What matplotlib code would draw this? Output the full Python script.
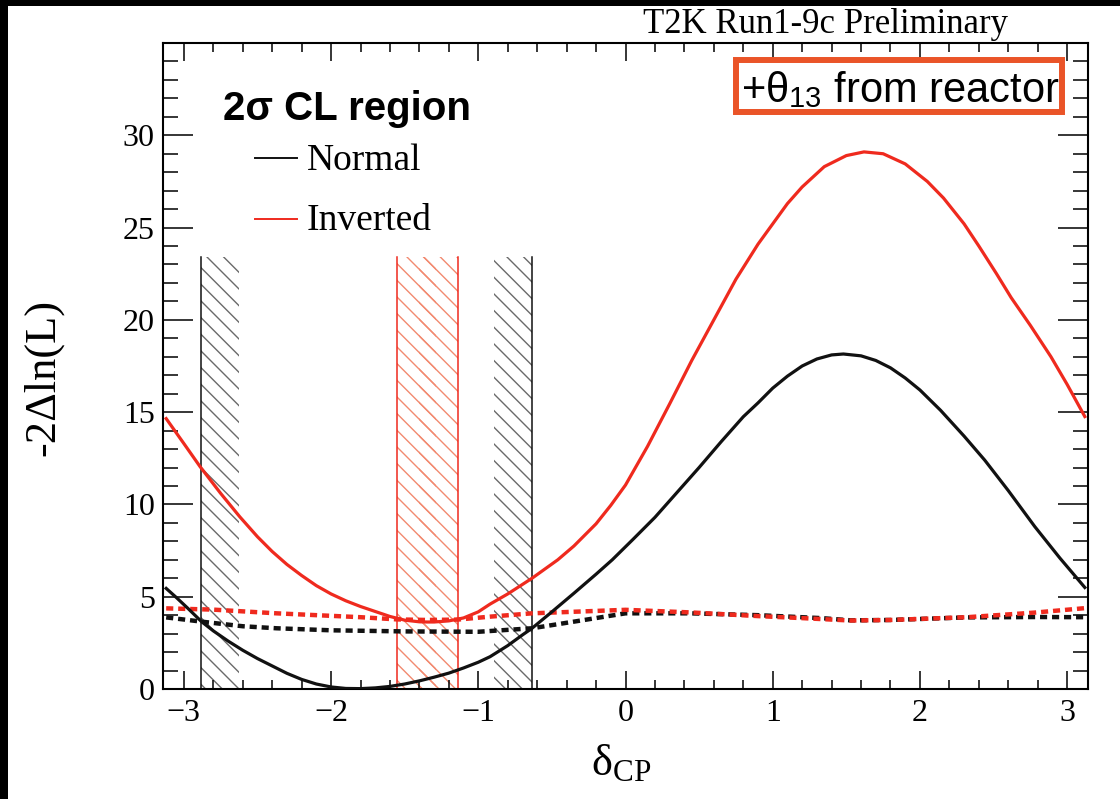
import matplotlib
matplotlib.use('Agg')
import matplotlib.pyplot as plt
from matplotlib.patches import Rectangle
from matplotlib.lines import Line2D
from matplotlib.ticker import FixedLocator, MultipleLocator
import numpy as np

plt.rcParams['font.family'] = ['Liberation Serif', 'DejaVu Serif']
plt.rcParams['mathtext.fontset'] = 'custom'
plt.rcParams['mathtext.rm'] = 'Liberation Serif'
plt.rcParams['mathtext.it'] = 'Liberation Serif:italic'
plt.rcParams['mathtext.bf'] = 'Liberation Serif:bold'
plt.rcParams['mathtext.sf'] = 'Liberation Sans'
plt.rcParams['hatch.linewidth'] = 1.0

# ---------------- data ----------------
normal_dcp = [-3.12, -3.05, -2.97, -2.88, -2.8, -2.7, -2.6, -2.5, -2.4, -2.3, -2.2,
              -2.1, -2.0, -1.9, -1.8, -1.7, -1.6, -1.5, -1.4, -1.3, -1.2, -1.1,
              -1.0, -0.92, -0.8, -0.7, -0.635, -0.5, -0.35, -0.2, -0.09, 0.05, 0.2,
              0.35, 0.5, 0.65, 0.8, 0.9, 1.0, 1.1, 1.2, 1.3, 1.4, 1.48, 1.6,
              1.7, 1.8, 1.9, 2.0, 2.14, 2.3, 2.44, 2.6, 2.78, 2.95, 3.12]
normal_chi2 = [5.45, 4.95, 4.35, 3.65, 3.15, 2.6, 2.1, 1.65, 1.25, 0.85, 0.52,
               0.27, 0.11, 0.03, 0.02, 0.06, 0.14, 0.27, 0.44, 0.64, 0.86, 1.14,
               1.45, 1.75, 2.35, 2.93, 3.29, 4.18, 5.19, 6.22, 7.0, 8.1, 9.3,
               10.65, 12.0, 13.4, 14.75, 15.5, 16.3, 16.95, 17.5, 17.88, 18.1, 18.15, 18.05,
               17.8, 17.4, 16.85, 16.2, 15.1, 13.7, 12.4, 10.75, 8.8, 7.1, 5.5]

inverted_dcp = [-3.12, -3.0, -2.89, -2.75, -2.62, -2.5, -2.4, -2.3, -2.2, -2.1, -2.0,
                -1.9, -1.8, -1.7, -1.6, -1.5, -1.4, -1.35, -1.3, -1.2, -1.1, -1.0,
                -0.92, -0.8, -0.635, -0.46, -0.35, -0.2, -0.1, 0.0, 0.15, 0.3, 0.45,
                0.6, 0.75, 0.9, 1.0, 1.1, 1.2, 1.35, 1.5, 1.62, 1.75, 1.9, 2.05,
                2.16, 2.3, 2.4, 2.52, 2.62, 2.75, 2.89, 3.0, 3.12]
inverted_chi2 = [14.65, 13.3, 12.05, 10.6, 9.33, 8.25, 7.45, 6.75, 6.15, 5.6, 5.15,
                 4.78, 4.47, 4.2, 3.93, 3.73, 3.64, 3.63, 3.63, 3.69, 3.85, 4.18,
                 4.6, 5.15, 6.0, 7.0, 7.75, 8.95, 9.95, 11.05, 13.15, 15.45, 17.8,
                 20.0, 22.2, 24.1, 25.2, 26.3, 27.2, 28.3, 28.9, 29.1, 29.0, 28.45, 27.5,
                 26.6, 25.2, 24.0, 22.5, 21.2, 19.7, 18.0, 16.5, 14.76]

normal_crit_dcp = [-3.12, -2.88, -2.6, -2.37, -2.0, -1.5, -1.0, -0.635, -0.35, 0.0, 0.44,
                   0.9, 1.33, 1.53, 1.8, 2.32, 2.8, 3.12]
normal_crit = [3.88, 3.65, 3.4, 3.29, 3.18, 3.12, 3.1, 3.29, 3.65, 4.1, 4.1,
               4.0, 3.84, 3.72, 3.74, 3.88, 3.9, 3.89]

inverted_crit_dcp = [-3.12, -2.8, -2.37, -1.8, -1.55, -1.35, -1.14, -0.92, -0.635, -0.3, 0.0,
                     0.44, 0.9, 1.2, 1.53, 1.8, 2.32, 2.78, 3.12]
inverted_crit = [4.37, 4.3, 4.1, 3.89, 3.77, 3.74, 3.76, 3.92, 4.1, 4.2, 4.29,
                 4.15, 3.95, 3.84, 3.71, 3.74, 3.89, 4.14, 4.38]

normal_cl = [-2.884, -0.635]
inverted_cl = [-1.549, -1.141]
band_top = 23.4
hatch_width = 0.26

x_ticks = [-3, -2, -1, 0, 1, 2, 3]
y_ticks = [0, 5, 10, 15, 20, 25, 30]

BLACK = '#111111'
RED = '#ef2a1e'
BOX = '#ea5428'

W, H = 1120, 799
def fx(px):
    return px / W
def fy(py):
    return 1 - py / H

fig = plt.figure(figsize=(W / 100, H / 100), dpi=100, facecolor='black')
fig.patches.append(Rectangle((fx(8), 0), 1, fy(6), transform=fig.transFigure,
                             facecolor='white', edgecolor='none', zorder=-10))

ax = fig.add_axes([fx(163), fy(689), fx(1088) - fx(163), fy(43) - fy(689)])
ax.set_xlim(-np.pi, np.pi)
ax.set_ylim(0, 35)

# CL bands
def band(cl, line_color, hatch_color):
    lo, hi = cl
    for a, b in [(lo, min(lo + hatch_width, hi)), (max(hi - hatch_width, lo), hi)]:
        ax.fill_between([a, b], 0, band_top, facecolor='none', edgecolor=hatch_color,
                        linewidth=0, hatch='\\\\', zorder=1)
    for v in cl:
        ax.plot([v, v], [0, band_top], color=line_color, lw=1.1, zorder=2)

band(normal_cl, BLACK, '#6a6a6a')
band(inverted_cl, RED, '#f28a70')

dash = (0, (1.6, 1.1))
ax.plot(normal_crit_dcp, normal_crit, color=BLACK, lw=3.2, linestyle=dash, zorder=3)
ax.plot(inverted_crit_dcp, inverted_crit, color=RED, lw=3.2, linestyle=dash, zorder=3)
ax.plot(normal_dcp, normal_chi2, color=BLACK, lw=2.3, zorder=4)
ax.plot(inverted_dcp, inverted_chi2, color=RED, lw=2.3, zorder=4)

# axes styling (ROOT-like)
for s in ax.spines.values():
    s.set_linewidth(1.5)
ax.xaxis.set_major_locator(FixedLocator(x_ticks))
ax.xaxis.set_minor_locator(MultipleLocator(0.2))
ax.yaxis.set_major_locator(FixedLocator(y_ticks))
ax.yaxis.set_minor_locator(MultipleLocator(1))
ax.tick_params(which='both', direction='in', top=True, right=True, width=1.1, labelsize=23)
ax.xaxis.set_tick_params(which='major', length=13, pad=7)
ax.xaxis.set_tick_params(which='minor', length=6.5)
ax.yaxis.set_tick_params(which='major', length=21.5, pad=6)
ax.yaxis.set_tick_params(which='minor', length=10.8)

ax.set_ylabel('-2\u0394ln(L)', fontsize=32)
ax.yaxis.set_label_coords(-0.108, 0.483)
ax.set_xlabel('\u03b4$_{\\mathrm{CP}}$', fontsize=32)
ax.xaxis.set_label_coords(0.495, -0.083)

# header text
fig.text(fx(1008), fy(33), 'T2K Run1-9c Preliminary', ha='right', va='baseline', fontsize=25)

# theta13 box
fig.patches.append(Rectangle((fx(736), fy(112)), fx(1062) - fx(736), fy(60) - fy(112),
                             transform=fig.transFigure, fill=False, edgecolor=BOX,
                             linewidth=4.3, zorder=5))
fig.text(fx(741), fy(102), '+\u03b8$_{\\mathsf{13}}$ from reactor', ha='left', va='baseline',
         fontsize=30, family=['Liberation Sans', 'DejaVu Sans'], zorder=6)

# legend block
fig.text(fx(223), fy(120), '2\u03c3 CL region', ha='left', va='baseline', fontsize=29,
         fontweight='bold', family=['Liberation Sans', 'DejaVu Sans'])
for yy, col, lab, base in [(158, BLACK, 'Normal', 170), (219, RED, 'Inverted', 230)]:
    fig.add_artist(Line2D([fx(255), fx(297)], [fy(yy), fy(yy)], color=col, lw=1.4,
                          transform=fig.transFigure))
    fig.text(fx(307), fy(base), lab, ha='left', va='baseline', fontsize=27)

fig.savefig('out.png', dpi=100, facecolor=fig.get_facecolor())
